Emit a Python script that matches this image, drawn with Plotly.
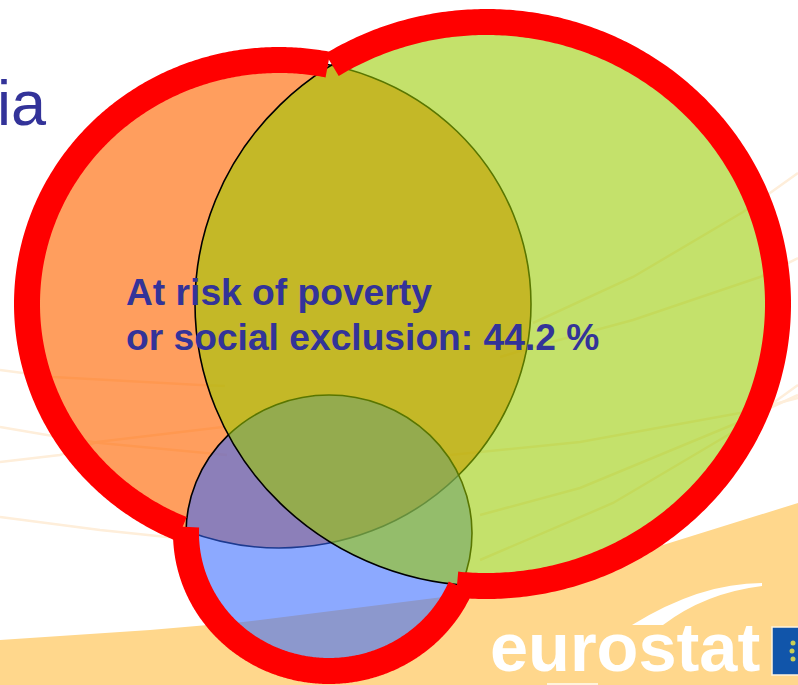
import numpy as np
import plotly.graph_objects as go

# Canvas (the picture is a slide crop, so the axes run in slide units)
WIDTH, HEIGHT = 798, 685

# Venn sets: centre x, centre y, x radius, y radius
set_names = ["Severely materially deprived", "At risk of poverty", "Low work intensity"]
set_cx = [279, 329, 486.5]
set_cy = [304, 533, 304]
set_rx = [252, 143, 291.5]
set_ry = [244, 138, 282]
set_fill = ["rgba(255,102,0,0.63)", "rgba(51,102,255,0.565)", "rgba(153,204,0,0.58)"]

# The red union outline: which part of each ellipse it follows (degrees)
arc_start = [78.8, 177.5, 122]
arc_end = [247.3, 337, -95.8]

# Background
band_x = [0, 150, 243, 443, 663, 798]
band_y = [640, 630, 622, 597, 545, 503]
streaks = [
    ([0, 53, 200, 225], [370, 377, 385, 386]),
    ([0, 47, 100, 227], [427, 435, 443, 455]),
    ([0, 60, 97, 223], [462, 455, 442, 427]),
    ([0, 100, 167, 190], [517, 530, 537, 538]),
    ([798, 770, 743, 633, 533], [173, 193, 212, 277, 323]),
    ([798, 760, 633, 533, 500], [258, 277, 320, 347, 357]),
    ([798, 740, 580, 480, 450], [398, 413, 442, 452, 455]),
    ([798, 737, 580, 480], [395, 423, 488, 515]),
    ([798, 733, 613, 480], [385, 432, 503, 560]),
]
flag_dots_x = [793, 792, 793]
flag_dots_y = [643, 651, 659]

INK = "#333399"
labels = ["At risk of poverty", "or social exclusion: 44.2 %"]
label_y = [292, 337]


def path(xs, ys, close=False):
    s = "M" + " L".join(f"{x},{y}" for x, y in zip(xs, ys))
    return s + (" Z" if close else "")


shapes = [
    dict(type="path", layer="below", line_width=0, fillcolor="#FFD78C",
         path=path(band_x + [798, 0], band_y + [685, 685], True)),
]
for sx, sy in streaks:
    shapes.append(dict(type="path", layer="below", line=dict(color="#FEEEDA", width=2.5),
                       path=path(sx, sy)))
shapes += [
    dict(type="path", layer="below", line_width=0, fillcolor="#FFFFFF",
         path="M762,583 Q700,583 632,625 L663,625 Q705,593 762,586 Z"),
    dict(type="rect", layer="below", x0=772, x1=800, y0=627, y1=675,
         fillcolor="#1155AA", line=dict(color="#FFF3DC", width=1.5)),
    dict(type="rect", layer="below", x0=547, x1=598, y0=683, y1=686,
         fillcolor="#FFF3DC", line_width=0),
]
for cx, cy, rx, ry, fill in zip(set_cx, set_cy, set_rx, set_ry, set_fill):
    shapes.append(dict(type="circle", layer="below", x0=cx - rx, x1=cx + rx, y0=cy - ry, y1=cy + ry,
                       fillcolor=fill, line=dict(color="#000000", width=1.6)))

fig = go.Figure()
for name, cx, cy, rx, ry, a0, a1 in zip(set_names, set_cx, set_cy, set_rx, set_ry, arc_start, arc_end):
    t = np.radians(np.linspace(a0, a1, 360))
    fig.add_trace(go.Scatter(x=cx + rx * np.cos(t), y=cy - ry * np.sin(t), mode="lines",
                             name=name, hoverinfo="skip",
                             line=dict(color="#FF0000", width=26, simplify=False)))
fig.add_trace(go.Scatter(x=flag_dots_x, y=flag_dots_y, mode="markers", hoverinfo="skip",
                         marker=dict(color="#C9CF55", size=5)))

annotations = [
    dict(x=0, xshift=-4, y=103, text="ia", font=dict(size=63, color=INK)),
    dict(x=489, y=647, text="<b>eurostat</b>", font=dict(size=68.5, color="#FFFFFF")),
]
for txt, y in zip(labels, label_y):
    annotations.append(dict(x=125, y=y, text=f"<b>{txt}</b>", font=dict(size=37.2, color=INK)))
for a in annotations:
    a.update(xref="x", yref="y", xanchor="left", yanchor="middle", showarrow=False, borderpad=0)

fig.update_layout(
    width=WIDTH, height=HEIGHT, margin=dict(l=0, r=0, t=0, b=0),
    paper_bgcolor="#FFFFFF", plot_bgcolor="#FFFFFF", showlegend=False,
    font=dict(family="Liberation Sans, Arial, sans-serif"),
    xaxis=dict(range=[0, WIDTH], visible=False, fixedrange=True),
    yaxis=dict(range=[HEIGHT, 0], visible=False, fixedrange=True),
    shapes=shapes, annotations=annotations,
)
fig.write_html("out.html", config=dict(displayModeBar=False),
               post_script="document.body.style.margin='0';document.documentElement.style.overflow='hidden';")
